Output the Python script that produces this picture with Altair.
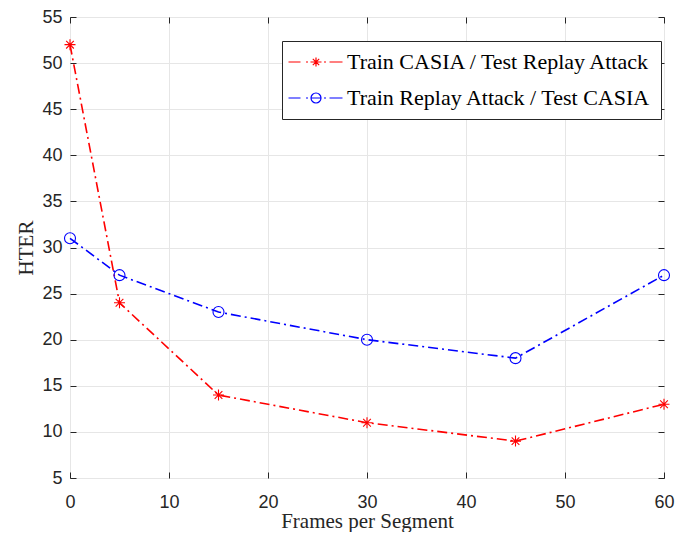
import altair as alt
import pandas as pd

frames = [0, 5, 15, 30, 45, 60]
casia_to_replay = [52, 24, 14, 11, 9, 13]
replay_to_casia = [31, 27, 23, 20, 18, 27]
series_names = ["Train CASIA / Test Replay Attack", "Train Replay Attack / Test CASIA"]
series_colors = ["#ff0000", "#0000ff"]
x_ticks = [0, 10, 20, 30, 40, 50, 60]
y_ticks = [5, 10, 15, 20, 25, 30, 35, 40, 45, 50, 55]

rows = []
for f, a, b in zip(frames, casia_to_replay, replay_to_casia):
    rows.append({"frames": f, "hter": a, "series": series_names[0]})
    rows.append({"frames": f, "hter": b, "series": series_names[1]})
df = pd.DataFrame(rows)

W, H = 594, 461
TOP = 9
INK = "#262626"
DASH = [10, 4, 2, 4]

ASTERISK = "M-1,0L1,0M0,-1L0,1M-0.7,-0.7L0.7,0.7M-0.7,0.7L0.7,-0.7"
LEG_LINE = "M-5.5,0L-3.1,0M-2.0,0L-1.6,0M-1.1,0L1.1,0M1.6,0L2.0,0M2.7,0L5.3,0"
LEG_RED = LEG_LINE + "M-0.9,0L0.9,0M0,-0.9L0,0.9M-0.64,-0.64L0.64,0.64M-0.64,0.64L0.64,-0.64"
LEG_BLUE = LEG_LINE + "M1,0A1,1 0 1,1 -1,0A1,1 0 1,1 1,0"

xscale = alt.Scale(domain=[0, 60], nice=False, zero=False)
yscale = alt.Scale(domain=[5, 55], nice=False, zero=False)
cscale = alt.Scale(domain=series_names, range=series_colors)

base = alt.Chart(df)
red = base.transform_filter(alt.datum.series == series_names[0])
blue = base.transform_filter(alt.datum.series == series_names[1])

# red line carries the main axes with labels, grid and titles
red_line = red.mark_line(strokeWidth=1.6, strokeDash=DASH, color=series_colors[0]).encode(
    x=alt.X("frames:Q", scale=xscale, axis=alt.Axis(
        orient="bottom", values=x_ticks, grid=True, ticks=False, domain=False,
        labelFlush=False, labelPadding=15, title="Frames per Segment",
        titleBaseline="alphabetic", titleY=49, titleX=W / 2, titleAlign="center")),
    y=alt.Y("hter:Q", scale=yscale, axis=alt.Axis(
        orient="left", values=y_ticks, grid=True, ticks=False, domain=False,
        labelFlush=False, labelPadding=8, title="HTER", titleBaseline="alphabetic",
        titleX=-38, titleY=H / 2, titleAlign="center", titleAngle=-90)),
)

blue_line = blue.mark_line(strokeWidth=1.6, strokeDash=DASH, color=series_colors[1]).encode(
    x=alt.X("frames:Q", scale=xscale, axis=None),
    y=alt.Y("hter:Q", scale=yscale, axis=None),
)

# red markers; axes give inward ticks at bottom and left
red_pts = red.mark_point(
    shape=ASTERISK, size=121, filled=False, strokeWidth=1.1, color=series_colors[0], opacity=1
).encode(
    x=alt.X("frames:Q", scale=xscale, axis=alt.Axis(
        orient="top", offset=-H, values=x_ticks, ticks=True, tickSize=6,
        labels=False, domain=False, grid=False, title=None)),
    y=alt.Y("hter:Q", scale=yscale, axis=alt.Axis(
        orient="right", offset=-W, values=y_ticks, ticks=True, tickSize=6,
        labels=False, domain=False, grid=False, title=None)),
)

blue_pts = blue.mark_point(
    shape="circle", size=121, filled=False, strokeWidth=1.1, color=series_colors[1], opacity=1
).encode(
    x=alt.X("frames:Q", scale=xscale, axis=None),
    y=alt.Y("hter:Q", scale=yscale, axis=None),
)

legend_def = alt.Legend(
    orient="none", legendX=212, legendY=33 - TOP, title=None,
    fillColor="white", strokeColor=INK, padding=10, rowPadding=14,
    labelFont="Liberation Serif", labelFontSize=22, labelColor="black", labelLimit=0,
    symbolSize=100, symbolStrokeWidth=1.2, symbolOffset=13, labelOffset=20,
    symbolOpacity=1,
)

# invisible layer that carries the legend and the top/right inward ticks
legend_layer = base.mark_point(filled=False, size=100, opacity=0).encode(
    x=alt.X("frames:Q", scale=xscale, axis=alt.Axis(
        orient="bottom", offset=-H, values=x_ticks, ticks=True, tickSize=6,
        labels=False, domain=False, grid=False, title=None)),
    y=alt.Y("hter:Q", scale=yscale, axis=alt.Axis(
        orient="left", offset=-W, values=y_ticks, ticks=True, tickSize=6,
        labels=False, domain=False, grid=False, title=None)),
    color=alt.Color("series:N", scale=cscale, legend=legend_def),
    shape=alt.Shape("series:N", scale=alt.Scale(domain=series_names, range=[LEG_RED, LEG_BLUE]),
                    legend=legend_def),
)

chart = alt.layer(red_line, blue_line, red_pts, blue_pts, legend_layer).resolve_axis(
    x="independent", y="independent"
).properties(
    width=W, height=H,
    autosize=alt.AutoSizeParams(type="none"),
    padding={"left": 62, "top": TOP, "right": 28, "bottom": 524 - TOP - H},
    background="white",
).configure_axis(
    labelFont="Liberation Sans", labelFontSize=18, labelColor=INK,
    titleFont="Liberation Serif", titleFontSize=21, titleFontWeight="normal", titleColor=INK,
    gridColor="#e6e6e6", gridWidth=1, tickColor=INK, tickWidth=1,
).configure_view(stroke=INK, strokeWidth=1)

chart.save("out.html", embed_options={"renderer": "svg", "actions": False})
